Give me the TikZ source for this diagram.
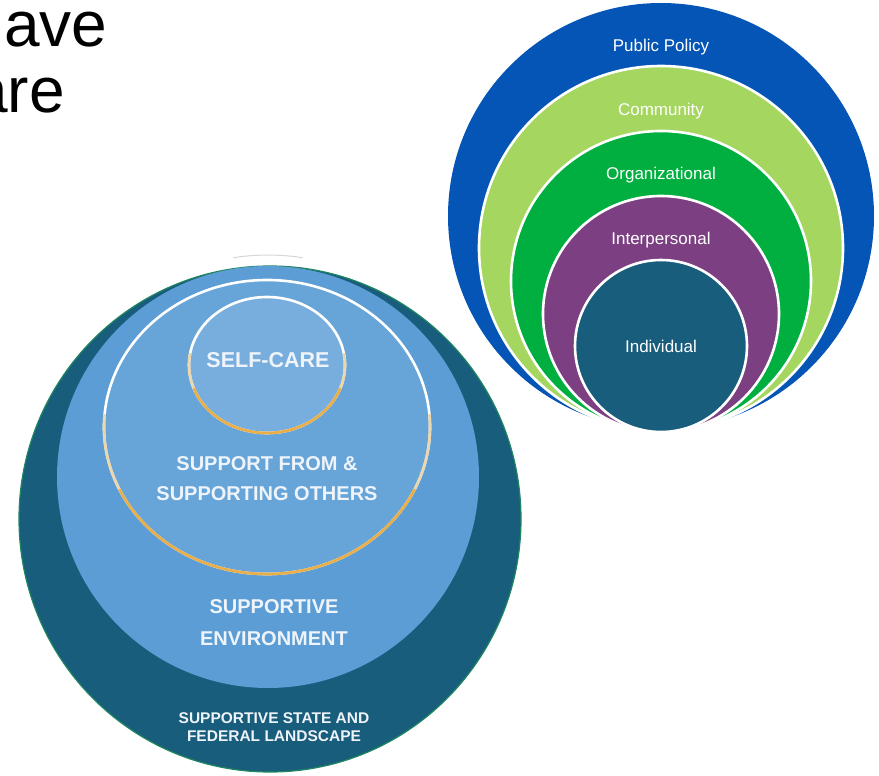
\documentclass[tikz,border=0pt]{standalone}
\usepackage{fontspec}
\setmainfont{Liberation Sans}
\usetikzlibrary{positioning}

\definecolor{pubblue}{RGB}{4,85,181}
\definecolor{commgreen}{RGB}{165,214,95}
\definecolor{orggreen}{RGB}{0,175,63}
\definecolor{interpurple}{RGB}{124,64,130}
\definecolor{indteal}{RGB}{24,93,124}
\definecolor{deepteal}{RGB}{25,93,125}
\definecolor{edgegreen}{RGB}{30,135,95}
\definecolor{envblue}{RGB}{91,157,212}
\definecolor{ringblue}{RGB}{103,164,216}
\definecolor{selfblue}{RGB}{120,174,222}
\definecolor{ringtan}{RGB}{236,214,170}
\definecolor{ringgold}{RGB}{233,174,72}
\definecolor{capwhite}{RGB}{238,244,250}
\definecolor{shadowgray}{RGB}{214,214,214}

\begin{document}
\begin{tikzpicture}[x=1pt,y=-1pt,
		ringline/.style={draw=white,line width=2.6pt},
		goldline/.style={draw=ringgold,line width=2.6pt},
		tanline/.style={draw=ringtan,line width=2.6pt},
		tier/.style={text=white,font=\fontsize{17}{20}\selectfont,inner sep=0pt,anchor=base},
		capslabel/.style={text=capwhite,font=\bfseries\fontsize{20}{24}\selectfont,inner sep=0pt,anchor=base},
		slidetext/.style={font=\fontsize{64}{70}\selectfont,inner sep=0pt}]
				\useasboundingbox (0,0) rectangle (879,776);

				%Nodes
				\node[slidetext,anchor=base west] (ave) at (4,47) {ave};
				\node[slidetext,anchor=base east] (are) at (65,113) {are};

				\coordinate      (pc) 	at 	(661,216);
				\coordinate      (cc) 	at 	(661,248);
				\coordinate      (oc) 	at 	(661,281);
				\coordinate      (ic) 	at 	(661,314);
				\coordinate      (dc) 	at 	(661,346);

				\coordinate      (outc) 	at 	(270,519);
				\coordinate      (envc) 	at 	(268,477);
				\coordinate      (supc) 	at 	(267,427);
				\coordinate      (selfc) 	at 	(267,365);

				%Levels
				\fill[pubblue] (pc) circle (213);
				\filldraw[fill=commgreen,ringline] (cc) circle (182);
				\filldraw[fill=orggreen,ringline] (oc) circle (150);
				\filldraw[fill=interpurple,ringline] (ic) circle (118);
				\filldraw[fill=indteal,ringline] (dc) circle (86);

				\node[tier] (policy) at (661,52) {Public Policy};
				\node[tier] (community) at (661,115) {Community};
				\node[tier] (organizational) at (661,179) {Organizational};
				\node[tier] (interpersonal) at (661,244) {Interpersonal};
				\node[tier] (individual) at (661,352) {Individual};

				%Support circles
				\filldraw[fill=deepteal,draw=edgegreen,line width=1.2pt] (outc) ellipse[x radius=251,y radius=253];
				\fill[envblue] (envc) circle (211);
				\draw[shadowgray,line width=1pt] (envc) ++(-99:222) arc[start angle=-99,end angle=-81,radius=222];

				\filldraw[fill=ringblue,ringline] (supc) ellipse[x radius=163,y radius=147];
				\draw[tanline] (supc) ++(-5:163 and 147) arc[start angle=-5,end angle=185,x radius=163,y radius=147];
				\draw[goldline] (supc) ++(25:163 and 147) arc[start angle=25,end angle=155,x radius=163,y radius=147];

				\filldraw[fill=selfblue,ringline] (selfc) ellipse[x radius=78,y radius=68];
				\draw[tanline] (selfc) ++(-10:78 and 68) arc[start angle=-10,end angle=190,x radius=78,y radius=68];
				\draw[goldline] (selfc) ++(20:78 and 68) arc[start angle=20,end angle=160,x radius=78,y radius=68];

				\node[capslabel,font=\bfseries\fontsize{21.5}{24}\selectfont] (selfcare) at (268,367) {SELF-CARE};
				\node[capslabel] (others1) at (267,470) {SUPPORT FROM \&};
				\node[capslabel] (others2) at (267,500) {SUPPORTING OTHERS};
				\node[capslabel] (env1) at (274,613) {SUPPORTIVE};
				\node[capslabel] (env2) at (274,645) {ENVIRONMENT};
				\node[capslabel,font=\bfseries\fontsize{15.5}{18}\selectfont] (land1) at (274,723) {SUPPORTIVE STATE AND};
				\node[capslabel,font=\bfseries\fontsize{15.5}{18}\selectfont] (land2) at (274,741) {FEDERAL LANDSCAPE};

		\end{tikzpicture}
\end{document}
